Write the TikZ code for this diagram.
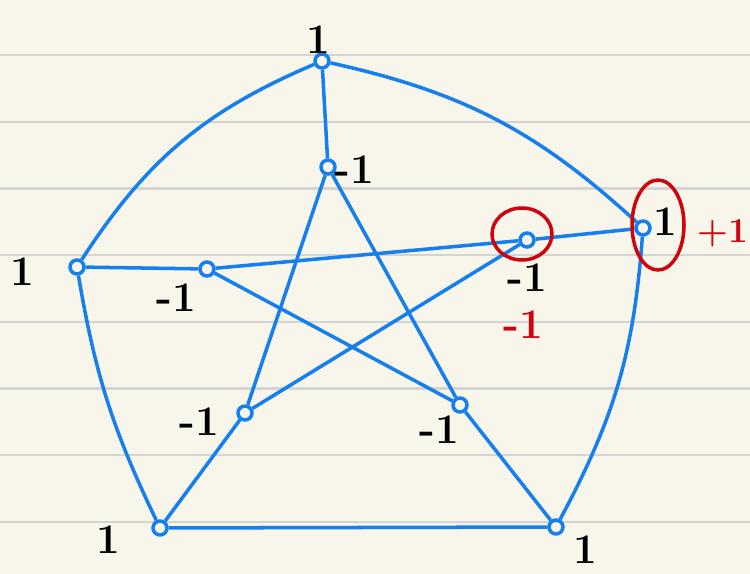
\documentclass[tikz,border=0pt]{standalone}
\definecolor{pen}{RGB}{22,127,238}
\definecolor{redink}{RGB}{205,5,15}
\definecolor{paper}{RGB}{248,246,234}
\definecolor{ruling}{RGB}{212,212,210}
\begin{document}
\begin{tikzpicture}[x=0.02cm,y=-0.02cm,
    v/.style={circle,draw=pen,line width=2pt,minimum size=0.28cm,inner sep=0pt},
    e/.style={pen,line width=2pt},
    lab/.style={font=\bfseries\fontsize{24}{24}\selectfont},
    redpen/.style={redink,line width=2pt}]
    \clip (0,0) rectangle (750,574);
    \fill[paper] (0,0) rectangle (750,574);
    \foreach \k in {0,...,7}
        \draw[ruling,line width=1.3pt] (0,{55+66.7*\k}) -- (750,{55+66.7*\k});
    % outer vertices
    \node[v] (o1) at (322,61) {};
    \node[v] (o2) at (643,228) {};
    \node[v] (o3) at (556,527) {};
    \node[v] (o4) at (160,528) {};
    \node[v] (o5) at (77,267) {};
    % inner vertices
    \node[v] (i1) at (328,167) {};
    \node[v] (i2) at (527,240) {};
    \node[v] (i3) at (460,405) {};
    \node[v] (i4) at (245,413) {};
    \node[v] (i5) at (207,269) {};
    \draw[e] (o1) to[bend left=15] (o2);
    \draw[e] (o2) to[bend left=12] (o3);
    \draw[e] (o3) to (o4);
    \draw[e] (o4) to[bend left=8] (o5);
    \draw[e] (o5) to[bend left=17] (o1);
    \foreach \n in {1,...,5}
        \draw[e] (o\n) -- (i\n);
    \draw[e] (i1) -- (i3);
    \draw[e] (i1) -- (i4);
    \draw[e] (i5) -- (i2);
    \draw[e] (i5) -- (i3);
    \draw[e] (i2) -- (i4);
    % values
    \node[lab] (l1) at (318,40) {1};
    \node[lab] (l2) at (665,222) {1};
    \node[lab] (l3) at (585,550) {1};
    \node[lab] (l4) at (108,540) {1};
    \node[lab] (l5) at (22,272) {1};
    \node[lab] (m1) at (354,170) {-1};
    \node[lab] (m2) at (527,278) {-1};
    \node[lab] (m3) at (439,430) {-1};
    \node[lab] (m4) at (199,422) {-1};
    \node[lab] (m5) at (176,298) {-1};
    \node[lab,redink] (r1) at (523,325) {-1};
    \node[lab,redink,anchor=east,inner sep=1pt,font=\bfseries\fontsize{20}{20}\selectfont] (r2) at (750,233) {+1};
    \draw[redpen] (522,234) ellipse (30 and 26);
    \draw[redpen] (658,225) ellipse (26 and 45);
\end{tikzpicture}
\end{document}
